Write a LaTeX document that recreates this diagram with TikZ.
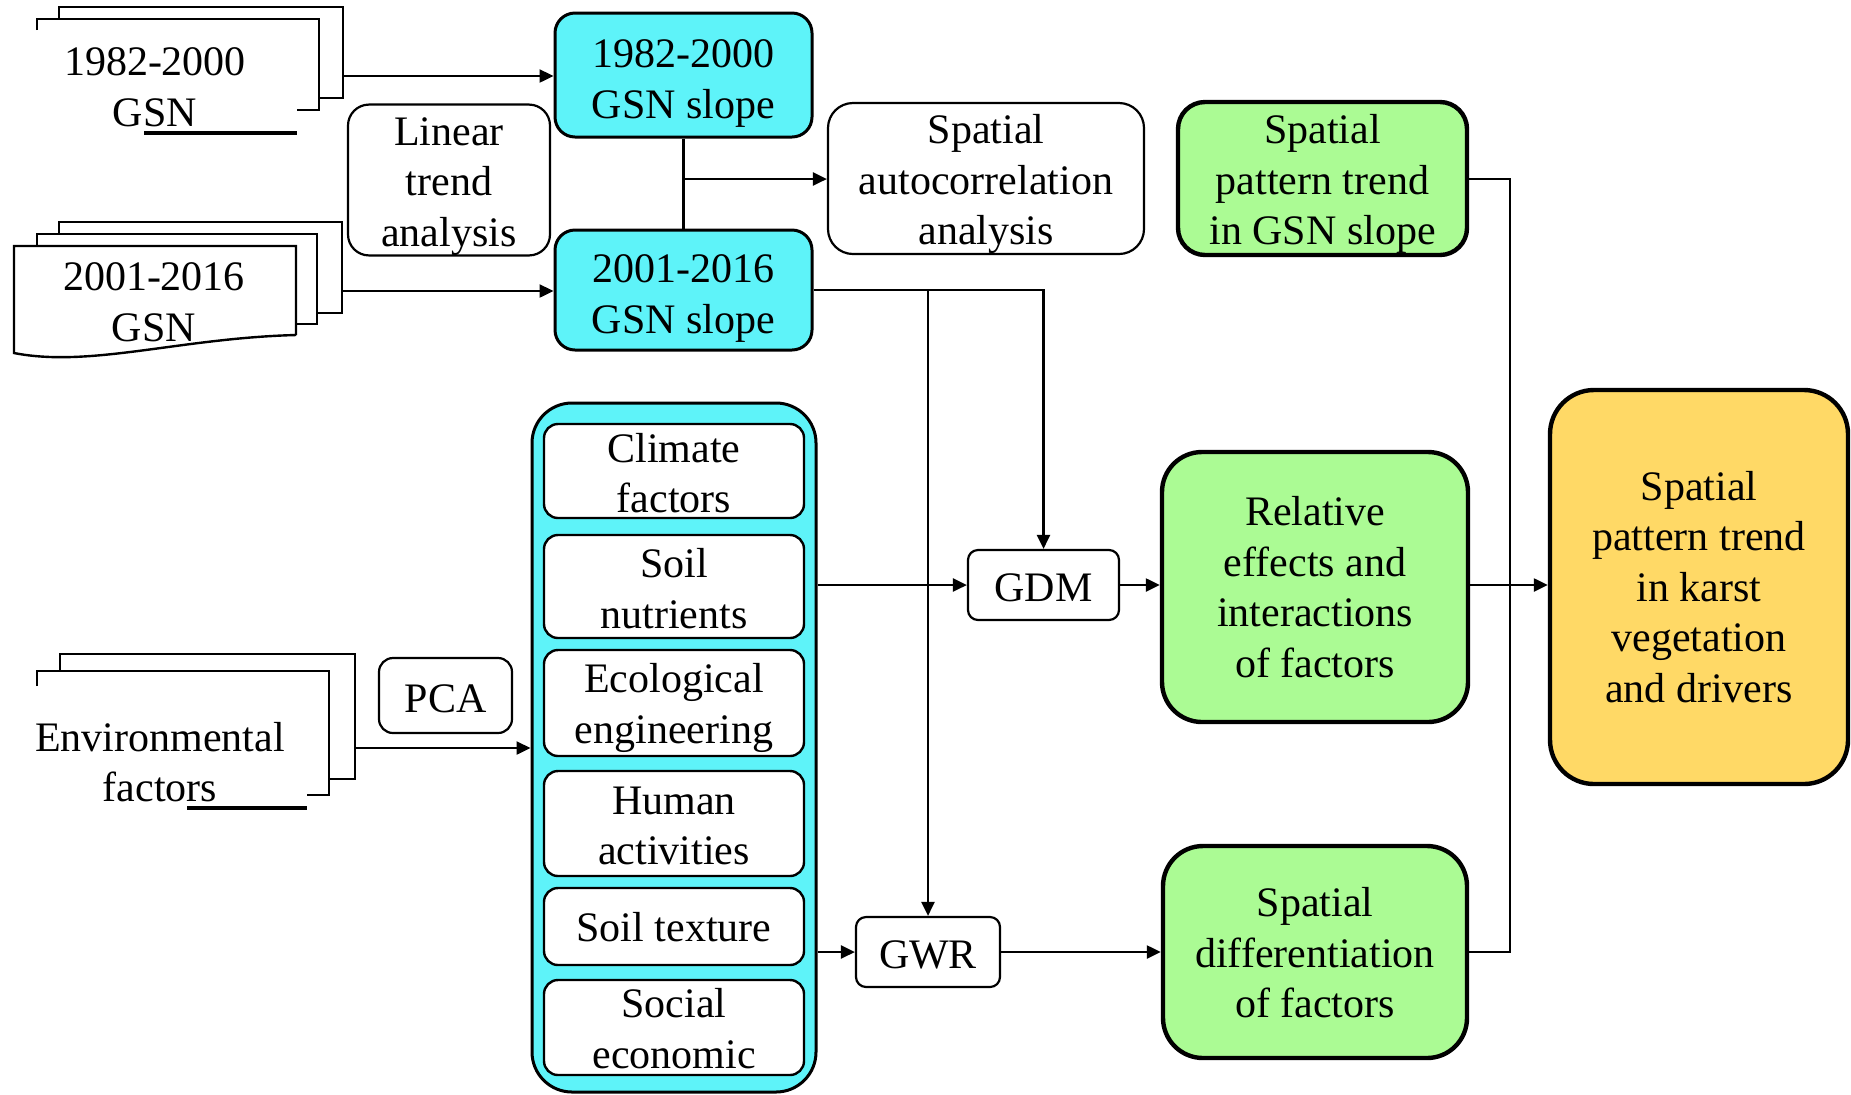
\documentclass[tikz,border=0pt]{standalone}
\usepackage{fontspec}
\setmainfont{Liberation Serif}
\usetikzlibrary{arrows.meta}
\definecolor{cyanF}{RGB}{94,243,249}
\definecolor{greenF}{RGB}{171,251,148}
\definecolor{orangeF}{RGB}{255,217,102}
\newcommand{\lowr}[1]{\rule{0pt}{#1}}
\begin{document}
\begin{tikzpicture}[x=0.5pt,y=-0.5pt,
  every node/.style={font=\fontsize{21pt}{25.3pt}\selectfont, align=center, inner sep=0pt},
  base/.style={draw, align=center, inner sep=0pt},
  cybox/.style={base, fill=cyanF, line width=1.5pt, rounded corners=10pt},
  wbox/.style={base, fill=white, line width=1.1pt, rounded corners=11pt},
  ibox/.style={base, fill=white, line width=1.2pt, rounded corners=7pt, minimum width=130pt},
  gbox/.style={base, fill=greenF, line width=2.2pt, rounded corners=14pt},
  obox/.style={base, fill=orangeF, line width=2.2pt, rounded corners=22pt},
  conn/.style={line width=1.2pt, -{Triangle[length=7pt,width=6.5pt]}},
  plain/.style={line width=1.2pt},
  fine/.style={line width=1pt},
  docline/.style={line width=1.2pt},
  uline/.style={line width=2pt}
]
\useasboundingbox (0,0) rectangle (1851,1094);
\fill[white] (0,0) rectangle (1851,1094);

% document 1982-2000
\draw[docline] (59,19) -- (59,7) -- (343,7) -- (343,98) -- (319,98);
\draw[docline] (37,30) -- (37,19) -- (319,19) -- (319,110) -- (297,110);
\draw[uline] (144,133) -- (297,133);
\node (t1) at (155,87) {1982-2000\\GSN};

% document 2001-2016
\draw[docline] (59,234) -- (59,222) -- (342,222) -- (342,313) -- (317,313);
\draw[docline] (37,246) -- (37,234) -- (317,234) -- (317,324) -- (296,324);
\draw[docline] (296,335) -- (296,246) -- (14,246) -- (14,353) .. controls (90,368) and (180,338) .. (296,335);
\node (t2) at (154,302) {2001-2016\\GSN};

% document environmental factors
\draw[docline] (60,671) -- (60,654) -- (355,654) -- (355,779) -- (330,779);
\draw[docline] (37,686) -- (37,671) -- (329,671) -- (329,795) -- (307,795);
\draw[uline] (187,808) -- (307,808);
\node (t3) at (160,762) {Environmental\\factors};

% boxes
\node[cybox, minimum width=128.5pt, minimum height=62pt] (b1982) at (683.5,75) {\lowr{22.3pt}1982-2000\\GSN slope};
\node[cybox, minimum width=128.5pt, minimum height=60pt] (b2001) at (683.5,290) {\lowr{22.3pt}2001-2016\\GSN slope};
\node[wbox, minimum width=101pt, minimum height=74pt, rounded corners=10.5pt] (lin) at (449,180) {\lowr{20.3pt}Linear\\trend\\analysis};
\node[wbox, minimum width=158pt, minimum height=75.5pt, rounded corners=12.5pt] (sac) at (986,178.5) {\lowr{20.3pt}Spatial\\autocorrelation\\analysis};
\node[gbox, minimum width=144.5pt, minimum height=76.5pt, rounded corners=13.5pt] (g1) at (1322.5,178.5) {\lowr{20.3pt}Spatial\\pattern trend\\in GSN slope};
\node[gbox, minimum width=153pt, minimum height=135pt, rounded corners=20pt] (rel) at (1315,587) {Relative\\effects and\\interactions\\of factors};
\node[gbox, minimum width=152pt, minimum height=106pt, rounded corners=20pt] (sdf) at (1315,952) {\lowr{15.5pt}Spatial\\differentiation\\of factors};
\node[obox, minimum width=149pt, minimum height=197pt] (fin) at (1699,587) {Spatial\\pattern trend\\in karst\\vegetation\\and drivers};
\node[wbox, minimum width=75.5pt, minimum height=35pt, rounded corners=5pt] (gdm) at (1043.5,585) {\lowr{16.5pt}GDM};
\node[wbox, minimum width=72pt, minimum height=35pt, rounded corners=5pt] (gwr) at (928,952) {\lowr{16.5pt}GWR};
\node[wbox, minimum width=66.5pt, minimum height=37.5pt, rounded corners=7pt] (pca) at (445.5,695.5) {\lowr{17.5pt}PCA};

% container of factors
\node[cybox, minimum width=142pt, minimum height=344.5pt, rounded corners=20pt] (cont) at (674,747.5) {};
\node[ibox, minimum height=47pt] (clim) at (674,471) {\lowr{16.5pt}Climate\\factors};
\node[ibox, minimum height=51.5pt] (snut) at (674,586.5) {\lowr{16.5pt}Soil\\nutrients};
\node[ibox, minimum height=53pt] (eco) at (674,703) {\lowr{19.3pt}Ecological\\engineering};
\node[ibox, minimum height=52.5pt] (hum) at (674,823.5) {\lowr{16pt}Human\\activities};
\node[ibox, minimum height=38.5pt] (stex) at (674,926.5) {\lowr{15.5pt}Soil texture};
\node[ibox, minimum height=47.5pt] (soc) at (674,1027.5) {\lowr{15.5pt}Social\\economic};

% connectors
\coordinate (d1) at (343,76);
\draw[conn] (d1) -- (d1 -| b1982.west);
\coordinate (d2) at (342,291);
\draw[conn] (d2) -- (d2 -| b2001.west);
\draw[plain] (b1982.south) -- (b2001.north);
\coordinate (mid) at (683.5,179);
\draw[conn] (mid) -- (mid -| sac.west);
\draw[conn] (b2001.east) -| (gdm.north);
\coordinate (br) at (b2001.east -| gwr.north);
\draw[conn] (br) -- (gwr.north);
\draw[conn] (cont.east |- gdm.west) -- (gdm.west);
\draw[conn] (cont.east |- gwr.west) -- (gwr.west);
\draw[conn] (gdm.east) -- (gdm.east -| rel.west);
\draw[conn] (rel.east |- gdm.east) -- (fin.west |- gdm.east);
\draw[conn] (gwr.east) -- (gwr.east -| sdf.west);
\coordinate (vx) at (1510,180);
\draw[fine] (g1.east) -- (g1.east -| vx) -- (vx |- sdf.east) -- (sdf.east);
\coordinate (e1) at (355,748);
\draw[conn] (e1) -- (e1 -| cont.west);
\end{tikzpicture}
\end{document}
